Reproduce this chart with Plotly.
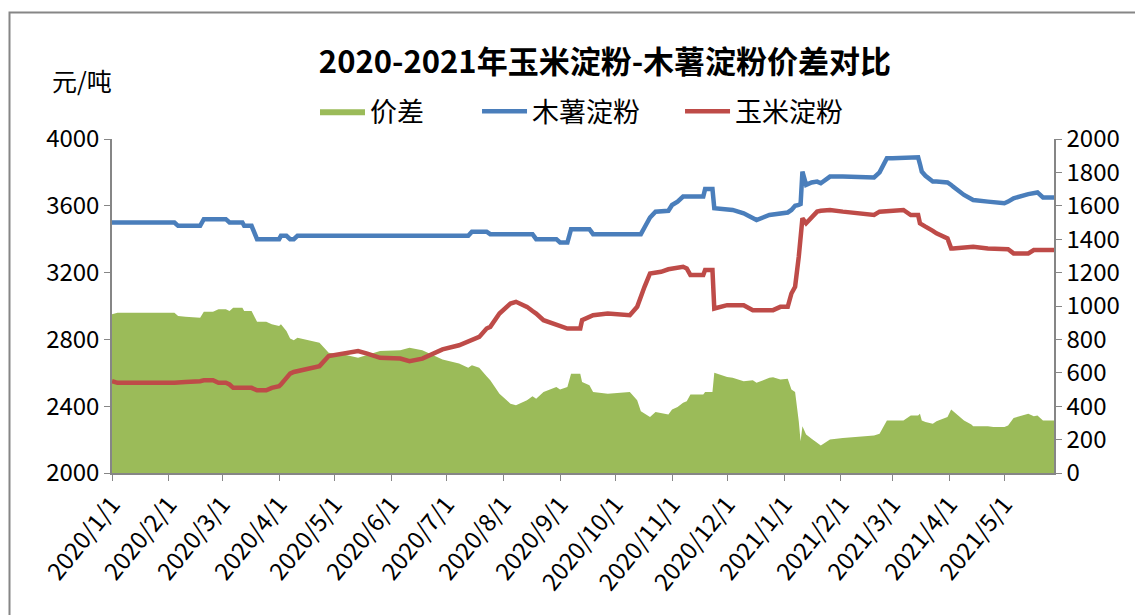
import plotly.graph_objects as go

# ---------------- data ----------------
dates = [
    "2020-01-01", "2020-01-04", "2020-02-04", "2020-02-06", "2020-02-10", "2020-02-18",
    "2020-02-20", "2020-02-25", "2020-02-28", "2020-03-03", "2020-03-05", "2020-03-07",
    "2020-03-12", "2020-03-13", "2020-03-17", "2020-03-20", "2020-03-25", "2020-03-28",
    "2020-04-01", "2020-04-02", "2020-04-05", "2020-04-07", "2020-04-09", "2020-04-11",
    "2020-04-17", "2020-04-23", "2020-04-28", "2020-05-08", "2020-05-14", "2020-05-19",
    "2020-05-26", "2020-06-06", "2020-06-11", "2020-06-18", "2020-06-24", "2020-06-29",
    "2020-07-08", "2020-07-13", "2020-07-15", "2020-07-19", "2020-07-23", "2020-07-25",
    "2020-07-30", "2020-08-05", "2020-08-08", "2020-08-14", "2020-08-17", "2020-08-19",
    "2020-08-23", "2020-08-30", "2020-09-01", "2020-09-05", "2020-09-07", "2020-09-12",
    "2020-09-13", "2020-09-17", "2020-09-19", "2020-09-27", "2020-10-09", "2020-10-13",
    "2020-10-15", "2020-10-17", "2020-10-20", "2020-10-23", "2020-10-26", "2020-10-30",
    "2020-11-01", "2020-11-04", "2020-11-07", "2020-11-09", "2020-11-11", "2020-11-18",
    "2020-11-19", "2020-11-23", "2020-11-24", "2020-12-01", "2020-12-04", "2020-12-10",
    "2020-12-15", "2020-12-17", "2020-12-24", "2020-12-26", "2020-12-30", "2021-01-03",
    "2021-01-05", "2021-01-07", "2021-01-09", "2021-01-10", "2021-01-11", "2021-01-13",
    "2021-01-16", "2021-01-19", "2021-01-21", "2021-01-26", "2021-02-02", "2021-02-19",
    "2021-02-22", "2021-02-26", "2021-03-01", "2021-03-07", "2021-03-11", "2021-03-15",
    "2021-03-16", "2021-03-17", "2021-03-19", "2021-03-23", "2021-03-25", "2021-03-31",
    "2021-04-02", "2021-04-03", "2021-04-09", "2021-04-13", "2021-04-14", "2021-04-22",
    "2021-04-25", "2021-05-01", "2021-05-03", "2021-05-06", "2021-05-14", "2021-05-17",
    "2021-05-19", "2021-05-22", "2021-05-28",
]

cassava_starch = [  # 木薯淀粉, 元/吨 (left axis)
    3500, 3500, 3500, 3480, 3480, 3480,
    3520, 3520, 3520, 3520, 3500, 3500,
    3500, 3480, 3480, 3400, 3400, 3400,
    3400, 3420, 3420, 3400, 3400, 3420,
    3420, 3420, 3420, 3420, 3420, 3420,
    3420, 3420, 3420, 3420, 3420, 3420,
    3420, 3420, 3445, 3445, 3445, 3430,
    3430, 3430, 3430, 3430, 3430, 3400,
    3400, 3400, 3380, 3380, 3460, 3460,
    3460, 3460, 3430, 3430, 3430, 3430,
    3430, 3470, 3530, 3565, 3565, 3570,
    3605, 3625, 3655, 3655, 3655, 3655,
    3700, 3700, 3585, 3580, 3575, 3555,
    3530, 3515, 3545, 3548, 3555, 3560,
    3575, 3600, 3605, 3610, 3805, 3725,
    3740, 3745, 3735, 3775, 3775, 3770,
    3800, 3885, 3885, 3890, 3890, 3890,
    3850, 3805, 3780, 3745, 3745, 3740,
    3725, 3715, 3665, 3645, 3635, 3625,
    3620, 3615, 3625, 3645, 3670, 3675,
    3680, 3650, 3650,
]

corn_starch = [  # 玉米淀粉, 元/吨 (left axis)
    2550, 2540, 2540, 2540, 2545, 2550,
    2555, 2555, 2540, 2540, 2530, 2510,
    2510, 2510, 2510, 2495, 2495, 2510,
    2520, 2530, 2570, 2595, 2605, 2610,
    2625, 2640, 2700, 2715, 2730, 2715,
    2690, 2685, 2670, 2685, 2715, 2740,
    2765, 2790, 2800, 2815, 2865, 2875,
    2955, 3015, 3025, 2995, 2970, 2955,
    2915, 2885, 2880, 2865, 2865, 2865,
    2915, 2935, 2945, 2955, 2945, 2995,
    3060, 3115, 3195, 3200, 3205, 3220,
    3225, 3230, 3235, 3225, 3185, 3185,
    3215, 3215, 2985, 3005, 3005, 3005,
    2975, 2975, 2975, 2975, 2995, 2995,
    3075, 3115, 3295, 3420, 3525, 3495,
    3535, 3565, 3570, 3575, 3565, 3545,
    3565, 3570, 3570, 3575, 3545, 3545,
    3495, 3490, 3475, 3450, 3435, 3405,
    3345, 3345, 3350, 3355, 3355, 3345,
    3345, 3340, 3340, 3315, 3315, 3335,
    3335, 3335, 3335,
]

price_spread = [  # 价差, 元/吨 (right axis)
    950, 960, 960, 940, 935, 930,
    965, 965, 980, 980, 970, 990,
    990, 970, 970, 905, 905, 890,
    880, 890, 850, 805, 795, 810,
    795, 780, 720, 705, 690, 705,
    730, 735, 750, 735, 705, 680,
    655, 630, 645, 630, 580, 555,
    475, 415, 405, 435, 460, 445,
    485, 515, 500, 515, 595, 595,
    545, 525, 485, 475, 485, 435,
    370, 355, 335, 365, 360, 350,
    380, 395, 420, 430, 470, 470,
    485, 485, 600, 575, 570, 550,
    555, 540, 570, 573, 560, 565,
    500, 485, 310, 190, 280, 230,
    205, 180, 165, 200, 210, 225,
    235, 315, 315, 315, 345, 345,
    355, 315, 305, 295, 310, 335,
    380, 370, 315, 290, 280, 280,
    275, 275, 285, 330, 355, 340,
    345, 315, 315,
]

month_ticks = [
    "2020-01-01", "2020-02-01", "2020-03-01", "2020-04-01", "2020-05-01", "2020-06-01",
    "2020-07-01", "2020-08-01", "2020-09-01", "2020-10-01", "2020-11-01", "2020-12-01",
    "2021-01-01", "2021-02-01", "2021-03-01", "2021-04-01", "2021-05-01",
]
month_labels = [
    "2020/1/1", "2020/2/1", "2020/3/1", "2020/4/1", "2020/5/1", "2020/6/1",
    "2020/7/1", "2020/8/1", "2020/9/1", "2020/10/1", "2020/11/1", "2020/12/1",
    "2021/1/1", "2021/2/1", "2021/3/1", "2021/4/1", "2021/5/1",
]

left_ticks = [2000, 2400, 2800, 3200, 3600, 4000]
right_ticks = [0, 200, 400, 600, 800, 1000, 1200, 1400, 1600, 1800, 2000]

title_text = "2020-2021年玉米淀粉-木薯淀粉价差对比"
unit_text = "元/吨"

# ---------------- styling ----------------
FONT = "Noto Sans CJK SC, Noto Sans, sans-serif"
GREEN = "#9BBB59"
BLUE = "#4A7EBB"
RED = "#BE4B48"
AXIS = "#868686"

# page is drawn with an 8px body offset; figure slightly smaller than the window
W, H = 1135, 607
L, T, PW, PH = 104, 131.3, 942, 333.4

fig = go.Figure()

fig.add_trace(go.Scatter(
    x=dates, y=price_spread, name="价差", mode="lines",
    line=dict(width=0, color=GREEN), fill="tozeroy", fillcolor=GREEN,
    yaxis="y", legend="legend",
))
fig.add_trace(go.Scatter(
    x=dates, y=cassava_starch, name="木薯淀粉", mode="lines",
    line=dict(width=4.5, color=BLUE), yaxis="y2", legend="legend2",
))
fig.add_trace(go.Scatter(
    x=dates, y=corn_starch, name="玉米淀粉", mode="lines",
    line=dict(width=4.5, color=RED), yaxis="y2", legend="legend3",
))

leg_common = dict(orientation="h", y=1.082, xanchor="left", yanchor="middle",
                  font=dict(family=FONT, size=27, color="black"),
                  bgcolor="rgba(0,0,0,0)", itemwidth=45)

fig.update_layout(
    width=W, height=H,
    margin=dict(l=L, r=W - L - PW, t=T, b=H - T - PH, autoexpand=False),
    paper_bgcolor="white", plot_bgcolor="white",
    font=dict(family=FONT, size=22, color="black"),
    showlegend=True,
    title=dict(
        text=title_text, xref="container", yref="container",
        x=597 / W, y=1 - 54 / H, xanchor="center", yanchor="middle",
        font=dict(family=FONT, size=31, color="black", weight="bold"),
    ),
    legend=dict(x=0.2155, **leg_common),
    legend2=dict(x=0.3875, **leg_common),
    legend3=dict(x=0.603, **leg_common),
    xaxis=dict(
        type="date", range=["2020-01-01", "2021-05-28"],
        tickmode="array", tickvals=month_ticks, ticktext=month_labels,
        tickangle=-51, ticks="outside", ticklen=6, tickcolor=AXIS,
        showline=True, linecolor=AXIS, linewidth=1.5,
        showgrid=False, zeroline=False,
        tickfont=dict(family=FONT, size=24, color="black"),
    ),
    yaxis=dict(
        side="right", range=[0, 2000], tickmode="array", tickvals=right_ticks,
        ticks="outside", ticklen=6, tickcolor=AXIS,
        showline=True, linecolor=AXIS, linewidth=1.5,
        showgrid=False, zeroline=False,
        tickfont=dict(family=FONT, size=24, color="black"),
    ),
    yaxis2=dict(
        overlaying="y", side="left", range=[2000, 4000], tickmode="array",
        tickvals=left_ticks, ticks="outside", ticklen=6, tickcolor=AXIS,
        showline=True, linecolor=AXIS, linewidth=1.5,
        showgrid=False, zeroline=False,
        tickfont=dict(family=FONT, size=24, color="black"),
    ),
    annotations=[
        dict(text=unit_text, xref="paper", yref="paper", x=-0.066, y=1.178,
             xanchor="left", yanchor="middle", showarrow=False,
             font=dict(family=FONT, size=25, color="black")),
    ],
    shapes=[
        dict(type="rect", xref="paper", yref="paper",
             x0=(1.5 - L) / PW, x1=(1132 - L) / PW, y0=-0.6, y1=1.3787,
             line=dict(color=AXIS, width=2), fillcolor="rgba(0,0,0,0)",
             layer="below"),
    ],
)

fig.write_html("out.html")
